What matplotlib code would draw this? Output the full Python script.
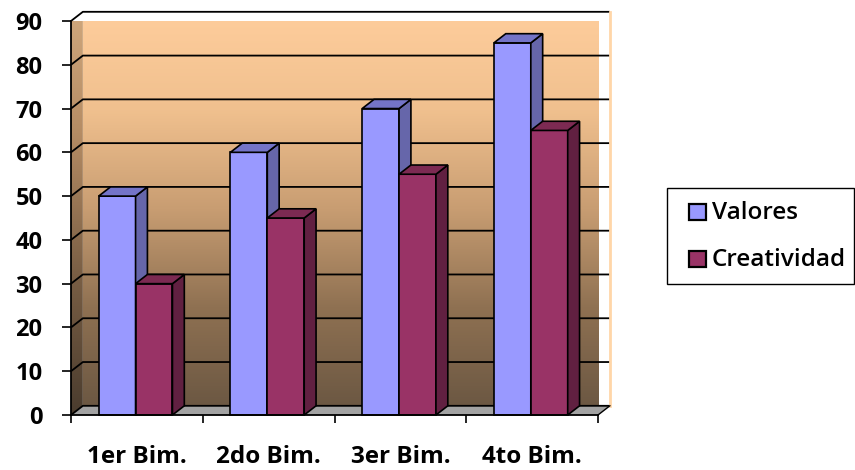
import numpy as np
import matplotlib
matplotlib.use("Agg")
import matplotlib.pyplot as plt
from matplotlib.patches import Polygon, Rectangle
from matplotlib.colors import LinearSegmentedColormap

categories = ["1er Bim.", "2do Bim.", "3er Bim.", "4to Bim."]
series_names = ["Valores", "Creatividad"]
valores = [50, 60, 70, 85]
creatividad = [30, 45, 55, 65]
y_ticks = list(range(0, 100, 10))

plt.rcParams["font.family"] = ["Open Sans", "DejaVu Sans"]

W, H = 855, 470
fig = plt.figure(figsize=(W / 100, H / 100), dpi=100)
ax = fig.add_axes([71 / W, 55 / H, 527 / W, 394 / H])
n = len(categories)
YMAX = y_ticks[-1]
ax.set_xlim(0, n)
ax.set_ylim(0, YMAX)
ax.patch.set_visible(False)

# depth of the 3-D box, in data units
DX = 0.09
DY = 2.1

# back and side walls with vertical gradients
wall_cmap = LinearSegmentedColormap.from_list(
    "wall", [(0, "#6c5843"), (0.25, "#8f7152"), (0.5, "#c89d72"),
             (0.75, "#f0c08e"), (1, "#fecd9c")])
side_cmap = LinearSegmentedColormap.from_list(
    "side", [(0, "#4a3c2e"), (0.35, "#7a5f45"), (0.7, "#b58c64"), (1, "#cfa77c")])
grad = np.linspace(0, 1, 256).reshape(-1, 1)

back = Polygon([(DX, DY), (n + DX, DY), (n + DX, YMAX + DY), (DX, YMAX + DY)],
               closed=True, facecolor="none", edgecolor="none", clip_on=False)
ax.add_patch(back)
im = ax.imshow(grad, cmap=wall_cmap, origin="lower", aspect="auto",
               extent=[DX, n + DX, DY, YMAX + DY], zorder=0, interpolation="bilinear")
im.set_clip_box(None)
im.set_clip_path(back)

side = Polygon([(0, 0), (DX, DY), (DX, YMAX + DY), (0, YMAX)],
               closed=True, facecolor="none", edgecolor="none", clip_on=False)
ax.add_patch(side)
im2 = ax.imshow(grad, cmap=side_cmap, origin="lower", aspect="auto",
                extent=[0, DX, 0, YMAX + DY], zorder=0, interpolation="bilinear")
im2.set_clip_box(None)
im2.set_clip_path(side)
ax.set_xlim(0, n)
ax.set_ylim(0, YMAX)

# floor
floor = Polygon([(0, 0), (n, 0), (n + DX, DY), (DX, DY)], closed=True,
                facecolor="#a3a3a3", edgecolor="none", clip_on=False, zorder=1)
ax.add_patch(floor)

# gridlines across side and back walls
for v in y_ticks:
    ax.plot([0, DX, n + DX], [v, v + DY, v + DY], color="black", lw=1.3,
            clip_on=False, zorder=1.5, solid_capstyle="butt")
ax.plot([n + DX, n + DX], [DY, YMAX + DY], color="#ffd6a8", lw=2.0,
        clip_on=False, zorder=1.5)
ax.plot([n, n + DX], [0, DY], color="black", lw=1.0, clip_on=False, zorder=1.5)

# 3-D columns
bw = 0.28
center = 0.49
styles = [
    ("#9999ff", "#6666aa", "#7474c8"),
    ("#993366", "#612041", "#7c2a52"),
]
series = [valores, creatividad]
z = 3
for i in range(n):
    for s, vals in enumerate(series):
        h = vals[i]
        x0 = i + center - bw + s * bw
        x1 = x0 + bw
        front, dark, top = styles[s]
        ax.bar(x0, h, width=bw, align="edge", color=front, edgecolor="black",
               linewidth=1.2, zorder=z, clip_on=False)
        ax.add_patch(Polygon([(x1, 0), (x1 + DX, DY), (x1 + DX, h + DY), (x1, h)],
                             closed=True, facecolor=dark, edgecolor="black",
                             linewidth=1.2, zorder=z, clip_on=False))
        ax.add_patch(Polygon([(x0, h), (x1, h), (x1 + DX, h + DY), (x0 + DX, h + DY)],
                             closed=True, facecolor=top, edgecolor="black",
                             linewidth=1.2, zorder=z, clip_on=False))
        z += 1

# axes
for sp in ("top", "right"):
    ax.spines[sp].set_visible(False)
for sp in ("left", "bottom"):
    ax.spines[sp].set_linewidth(1.3)
    ax.spines[sp].set_zorder(20)

ax.set_yticks(y_ticks)
ax.tick_params(axis="y", length=6.5, width=1.2, pad=14, labelsize=17)
for lab in ax.get_yticklabels():
    lab.set_fontweight("bold")

ax.set_xticks(range(n + 1))
ax.set_xticklabels([])
ax.set_xticks([i + 0.5 for i in range(n)], minor=True)
ax.set_xticklabels(categories, minor=True, fontsize=17.5, fontweight="bold")
ax.tick_params(axis="x", which="major", length=6, width=1.2)
ax.tick_params(axis="x", which="minor", length=0, pad=21.5)

# legend box, drawn in figure pixels
def fx(px):
    return px / W

def fy(py):
    return 1 - py / H

fig.add_artist(Rectangle((fx(667), fy(284)), fx(854) - fx(667), fy(188) - fy(284),
                         transform=fig.transFigure, facecolor="white",
                         edgecolor="black", linewidth=1.0))
entry_rows = [(204, 220), (251, 267)]
for k, (top_px, bot_px) in enumerate(entry_rows):
    fig.add_artist(Rectangle((fx(689), fy(bot_px)), fx(706) - fx(689),
                             fy(top_px) - fy(bot_px), transform=fig.transFigure,
                             facecolor=styles[k][0], edgecolor="black", linewidth=1.6))
    fig.text(fx(712), fy(bot_px - 1), series_names[k], fontsize=17.5,
             fontweight="semibold", ha="left", va="baseline")

fig.savefig("out.png", dpi=100)
